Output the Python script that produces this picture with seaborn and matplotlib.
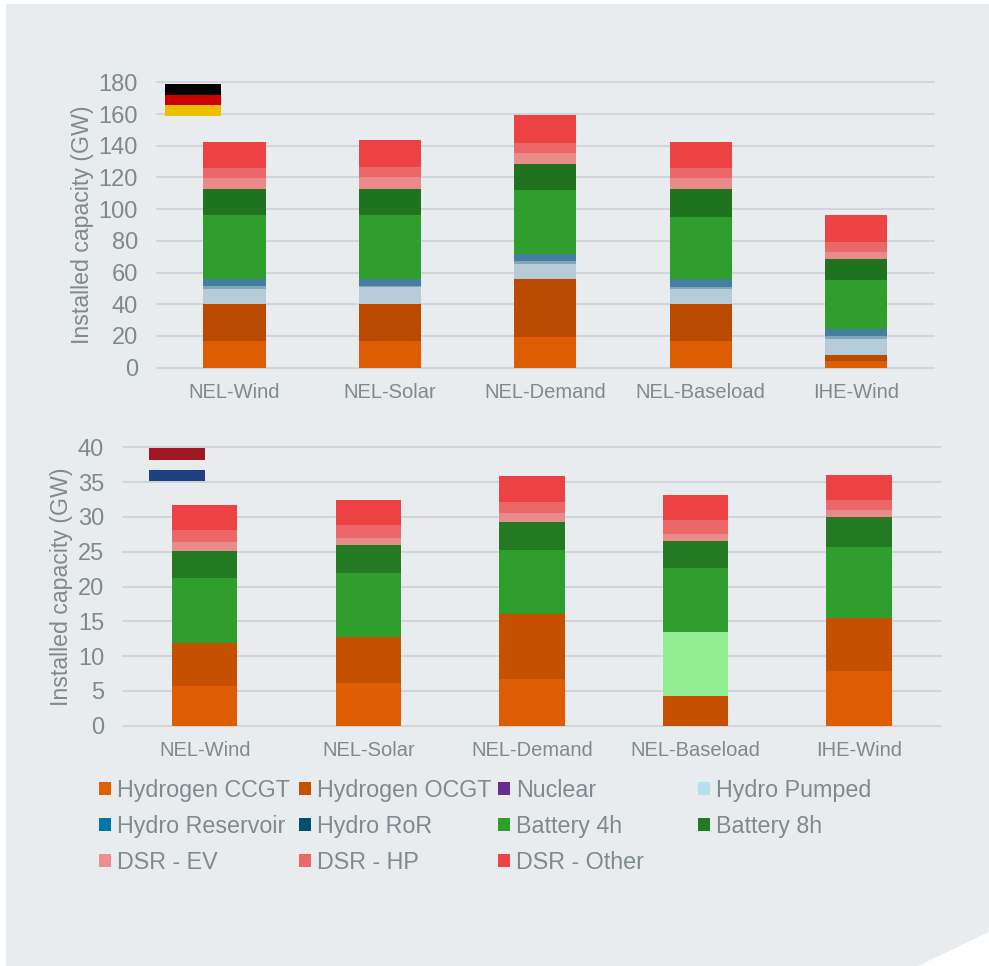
import matplotlib
matplotlib.use("Agg")
import matplotlib.pyplot as plt
import seaborn as sns
from matplotlib.patches import Patch, Polygon, Rectangle

# Scenario names shared by both panels
scenarios = ["NEL-Wind", "NEL-Solar", "NEL-Demand", "NEL-Baseload", "IHE-Wind"]

# Germany: installed capacity per technology (GW)
de_ccgt = [16.8, 16.8, 19.1, 16.8, 4.0]
de_ocgt = [23.2, 23.2, 36.6, 23.2, 4.2]
de_pumped = [9.6, 10.7, 9.7, 9.6, 9.9]
de_reservoir = [1.9, 0.8, 2.1, 1.1, 1.9]
de_ror = [4.2, 4.2, 4.2, 5.0, 4.2]
de_batt4 = [40.3, 40.3, 40.2, 39.3, 30.9]
de_batt8 = [16.7, 16.7, 16.6, 17.7, 13.4]
de_ev = [6.9, 7.6, 6.9, 6.9, 4.5]
de_hp = [6.4, 6.3, 6.3, 6.4, 6.0]
de_other = [16.5, 16.8, 17.7, 16.5, 17.1]

# Netherlands: installed capacity per technology (GW)
nl_ccgt = [5.7, 6.2, 6.66, 0.0, 7.86]
nl_ocgt = [6.2, 6.5, 9.4, 4.26, 7.64]
nl_unlabelled = [0.0, 0.0, 0.0, 9.14, 0.0]
nl_batt4 = [9.3, 9.2, 9.15, 9.26, 10.2]
nl_batt8 = [3.95, 4.0, 4.1, 3.94, 4.3]
nl_ev = [1.25, 1.1, 1.3, 1.0, 1.0]
nl_hp = [1.7, 1.8, 1.6, 1.9, 1.4]
nl_other = [3.6, 3.6, 3.6, 3.6, 3.6]

# Legend columns, listed top to bottom
legend_columns = [
    [("Hydrogen CCGT", "#e06000"), ("Hydro Reservoir", "#0077a8"), ("DSR - EV", "#ee8f8f")],
    [("Hydrogen OCGT", "#c55000"), ("Hydro RoR", "#005070"), ("DSR - HP", "#ec6868")],
    [("Nuclear", "#662d91"), ("Battery 4h", "#2f9e2d"), ("DSR - Other", "#ee4244")],
    [("Hydro Pumped", "#b8dff0"), ("Battery 8h", "#227a22")],
]

de_layers = [
    (de_ccgt, "#de5c02"), (de_ocgt, "#b94a00"), (de_pumped, "#b5ccd7"),
    (de_reservoir, "#7fa8bf"), (de_ror, "#457f9f"), (de_batt4, "#309e2d"),
    (de_batt8, "#1f731f"), (de_ev, "#ea8b8b"), (de_hp, "#ec6868"), (de_other, "#ec4244"),
]
nl_layers = [
    (nl_ccgt, "#de5c02"), (nl_ocgt, "#c55000"), (nl_unlabelled, "#90ee90"),
    (nl_batt4, "#309e2d"), (nl_batt8, "#237a23"), (nl_ev, "#ea8b8b"),
    (nl_hp, "#ec6868"), (nl_other, "#ec4244"),
]

W, H = 989, 966
PANEL = "#e9ecef"
TEXT = "#7f8a8c"
GRID = "#cfd3d7"

sns.set_theme(style="white")
plt.rcParams["font.family"] = ["Liberation Sans", "DejaVu Sans"]

fig = plt.figure(figsize=(W / 100, H / 100), dpi=100, facecolor="white")


def fx(x):
    return x / W


def fy(y):
    return 1 - y / H


# Backing panel with a clipped lower-right corner
fig.patches.append(Polygon(
    [(fx(6), fy(4)), (fx(989), fy(4)), (fx(989), fy(932)), (fx(918), fy(966)), (fx(6), fy(966))],
    closed=True, transform=fig.transFigure, facecolor=PANEL, edgecolor="none", zorder=-5))


def stacked_panel(box, layers, ymax, step, label_x):
    left, top, right, bottom = box
    ax = fig.add_axes([fx(left), fy(bottom), (right - left) / W, (bottom - top) / H])
    ax.patch.set_alpha(0)
    base = [0.0] * len(scenarios)
    for values, colour in layers:
        sns.barplot(x=scenarios, y=values, bottom=base, color=colour, saturation=1,
                    width=0.4, order=scenarios, linewidth=0, errorbar=None, ax=ax, zorder=3)
        base = [b + v for b, v in zip(base, values)]
    ax.set_xlim(-0.5, 4.5)
    ax.set_ylim(0, ymax)
    ax.set_yticks(range(0, ymax + 1, step))
    ax.grid(axis="y", color=GRID, linewidth=1.3, zorder=0)
    ax.set_axisbelow(True)
    sns.despine(ax=ax, left=True, top=True, right=True, bottom=True)
    ax.tick_params(axis="y", length=0, pad=13.5, labelsize=17, labelcolor=TEXT)
    ax.tick_params(axis="x", length=0, pad=11, labelsize=14.5, labelcolor=TEXT)
    for line in ax.get_ygridlines():
        line.set_clip_on(False)
    ax.set_xlabel("")
    ax.set_ylabel("Installed capacity (GW)", fontsize=16.7, color=TEXT)
    ax.yaxis.set_label_coords((label_x - left) / (right - left), 0.5)
    return ax


stacked_panel((156.7, 82.3, 934, 367.7), de_layers, 180, 20, 94)
stacked_panel((123, 447.3, 940.7, 725.7), nl_layers, 40, 5, 73)


def flag_stripe(x0, x1, y0, y1, colour):
    fig.patches.append(Rectangle((fx(x0), fy(y1)), (x1 - x0) / W, (y1 - y0) / H,
                                 transform=fig.transFigure, facecolor=colour,
                                 edgecolor="none", zorder=6))


# German flag
flag_stripe(165, 221, 84, 95, "#000000")
flag_stripe(165, 221, 95, 105, "#cc0000")
flag_stripe(165, 221, 105, 116, "#ebc000")
# Dutch flag, with the panel colour showing through the middle stripe
flag_stripe(149, 205, 448, 459.5, "#a01824")
flag_stripe(149, 205, 470, 481, "#1f4082")

# One single-column legend per column so the columns sit on an even pitch
for column, x in zip(legend_columns, [99.2, 299, 498, 698]):
    handles = [Patch(facecolor=c, edgecolor="none", label=name) for name, c in column]
    fig.legend(handles=handles, loc="upper left", bbox_to_anchor=(fx(x), fy(779)),
               bbox_transform=fig.transFigure, frameon=False, fontsize=16.75, labelcolor=TEXT,
               borderpad=0, borderaxespad=0, handlelength=0.5, handleheight=0.5,
               handletextpad=0.26, labelspacing=0.56)

fig.savefig("out.png", dpi=100, facecolor="white")
